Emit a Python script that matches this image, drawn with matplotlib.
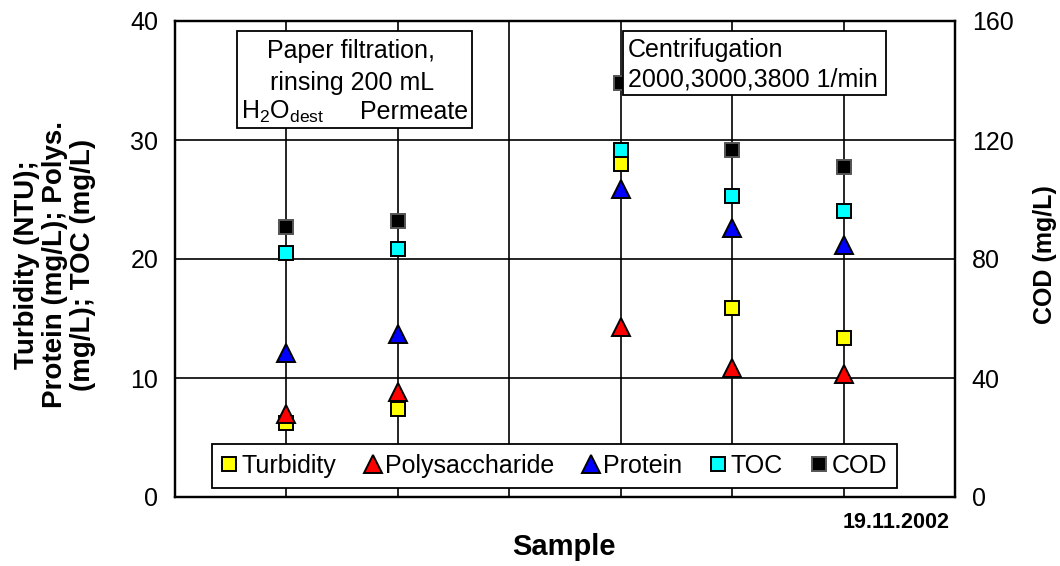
import numpy as np
import matplotlib
matplotlib.use('Agg')
import matplotlib.pyplot as plt
from matplotlib.patches import Rectangle

plt.rcParams['font.family'] = ['Liberation Sans', 'DejaVu Sans']
plt.rcParams['mathtext.fontset'] = 'custom'
plt.rcParams['mathtext.rm'] = 'Liberation Sans'

# Sample positions (position 3 is an empty separator)
samples = [1, 2, 4, 5, 6]

turbidity = [6.25, 7.4, 27.96, 15.9, 13.35]
polysaccharide = [7.0, 8.8, 14.3, 10.8, 10.3]
protein = [12.1, 13.7, 25.85, 22.6, 21.2]
toc = [20.5, 20.8, 29.2, 25.3, 24.0]
cod = [90.7, 92.9, 139.3, 116.5, 111.0]

left_ticks = [0, 10, 20, 30, 40]
right_ticks = [0, 40, 80, 120, 160]

W, H = 1060, 566


def fx(px):
    return px / W


def fy(py):
    return 1 - py / H


fig = plt.figure(figsize=(10.6, 5.66), dpi=100)
ax = fig.add_axes([fx(175), fy(497), fx(955) - fx(175), fy(21) - fy(497)])
ax2 = ax.twinx()

ax.set_xlim(0, 7)
ax.set_ylim(0, 40)
ax2.set_ylim(0, 160)
ax.set_xticks([1, 2, 3, 4, 5, 6])
ax.set_xticklabels([])
ax.set_yticks(left_ticks)
ax2.set_yticks(right_ticks)
ax.tick_params(axis='both', length=0, labelsize=18, pad=12)
ax2.tick_params(axis='y', length=0, labelsize=18, pad=12)
ax.grid(True, color='black', lw=1.2)
ax.set_axisbelow(True)
for a in (ax, ax2):
    for s in a.spines.values():
        s.set_linewidth(1.6)

mk = dict(markeredgecolor='black', markeredgewidth=1.4, linestyle='none')
h1, = ax.plot(samples, turbidity, 's', color='#ffff00', markersize=10, label='Turbidity', zorder=3, **mk)
h2, = ax.plot(samples, polysaccharide, '^', color='#ff0000', markersize=13.5, label='Polysaccharide', zorder=3, **mk)
h3, = ax.plot(samples, protein, '^', color='#0000ff', markersize=13.5, label='Protein', zorder=3, **mk)
h4, = ax.plot(samples, toc, 's', color='#00ffff', markersize=10, label='TOC', zorder=3, **mk)
h5, = ax2.plot(samples, cod, 's', color='black', markersize=10, label='COD', zorder=3,
               markeredgecolor='#555555', markeredgewidth=1.4, linestyle='none')

leg = ax2.legend(handles=[h1, h2, h3, h4, h5], loc='center', ncol=5,
                 bbox_to_anchor=((554.5 - 175) / 780, (497 - 466) / 476), fontsize=18,
                 frameon=True, fancybox=False, framealpha=1, edgecolor='black',
                 handlelength=0.6, handletextpad=0.2, columnspacing=1.15,
                 borderpad=0.4, borderaxespad=0)
leg.get_frame().set_linewidth(1.3)
leg.set_zorder(10)

# Paper filtration box
fig.patches.append(Rectangle((237, H - 128), 235, 97, transform=None, facecolor='white',
                             edgecolor='black', linewidth=1.3, zorder=9))
fig.text(fx(351), fy(58), 'Paper filtration,', ha='center', va='baseline', fontsize=18, zorder=11)
fig.text(fx(352), fy(90), 'rinsing 200 mL', ha='center', va='baseline', fontsize=18, zorder=11)
fig.text(fx(241), fy(119), r'H$_2$O$_{\mathrm{dest}}$', ha='left', va='baseline',
         fontsize=18, zorder=11)
fig.text(fx(468), fy(119), 'Permeate', ha='right', va='baseline', fontsize=18, zorder=11)

# Centrifugation box
fig.patches.append(Rectangle((623, H - 95), 263, 64, transform=None, facecolor='white',
                             edgecolor='black', linewidth=1.3, zorder=9))
fig.text(fx(628), fy(57), 'Centrifugation', ha='left', va='baseline', fontsize=18, zorder=11)
fig.text(fx(628), fy(87), '2000,3000,3800 1/min', ha='left', va='baseline', fontsize=18, zorder=11)

# Axis titles
fig.text(fx(55), fy(265), 'Turbidity (NTU);\nProtein (mg/L); Polys.\n(mg/L); TOC (mg/L)',
         rotation=90, ha='center', va='center', fontsize=20, fontweight='bold',
         linespacing=1.1, multialignment='center')
fig.text(fx(1045), fy(255), 'COD (mg/L)', rotation=90, ha='center', va='center',
         fontsize=18, fontweight='bold')
fig.text(fx(564), fy(547), 'Sample', ha='center', va='center', fontsize=21, fontweight='bold')
fig.text(fx(950), fy(522), '19.11.2002', ha='right', va='center', fontsize=15.5,
         fontweight='bold')

fig.savefig('out.png', dpi=100)
